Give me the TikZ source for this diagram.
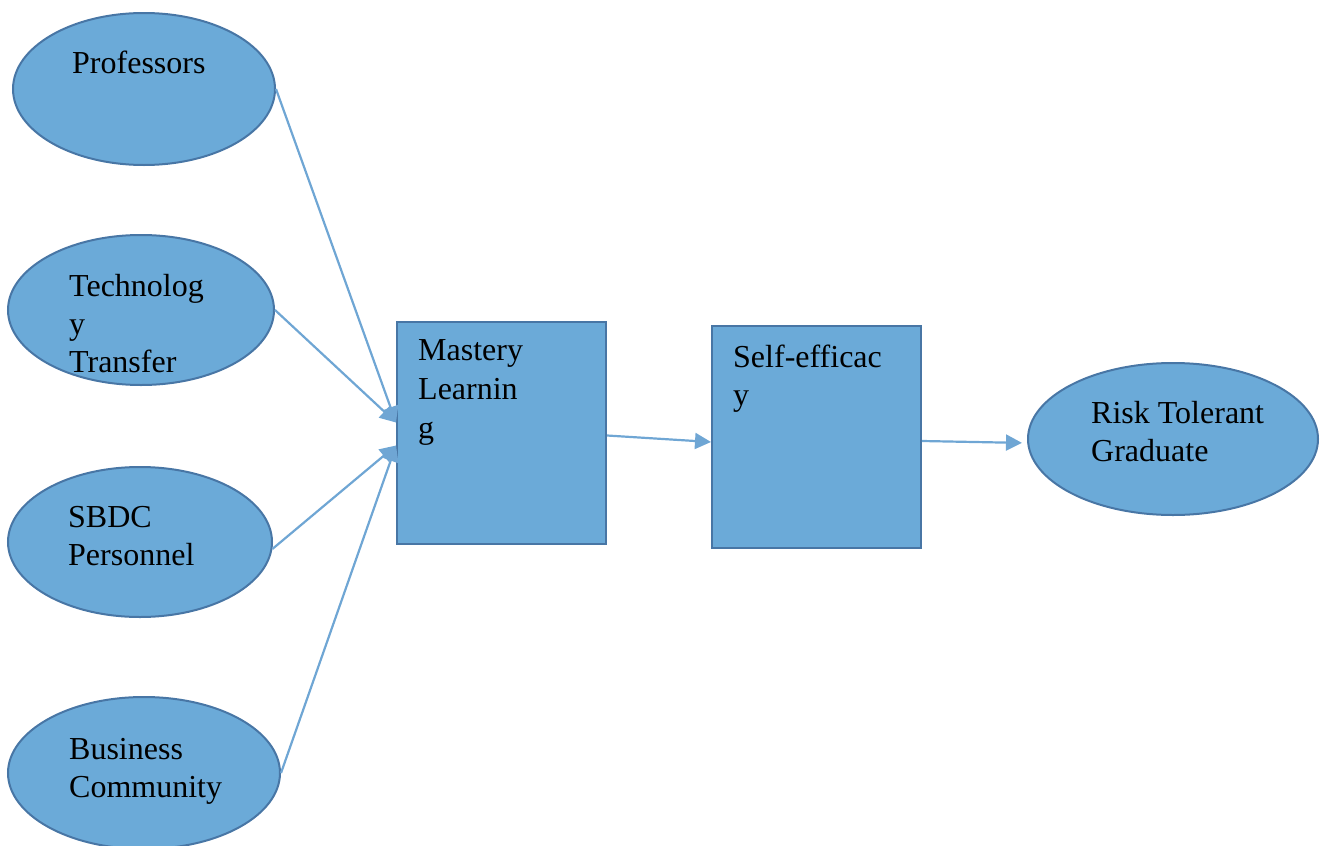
\documentclass[tikz,border=0pt]{standalone}
\usepackage{fontspec}
\setmainfont{Liberation Serif}
\usetikzlibrary{shapes.geometric,arrows.meta}
\definecolor{boxfill}{RGB}{107,170,216}
\definecolor{boxline}{RGB}{72,118,165}
\definecolor{arrowc}{RGB}{111,166,212}
\tikzset{
  x=1pt,y=-1pt,
  oval/.style={ellipse,draw=boxline,fill=boxfill,line width=2pt,inner sep=0pt},
  sq/.style={rectangle,draw=boxline,fill=boxfill,line width=2pt,inner sep=0pt,minimum width=209pt,minimum height=222pt},
  lbl/.style={anchor=base west,inner sep=0pt,align=left,font=\fontsize{32}{38}\selectfont},
  conn/.style={draw=arrowc,line width=2.2pt,-{Triangle[length=16pt,width=16pt]}}
}
\begin{document}
\begin{tikzpicture}
\useasboundingbox (0,0) rectangle (1326,846);
\node[oval,minimum width=262pt,minimum height=152pt] (prof) at (144,89) {};
\node[oval,minimum width=266pt,minimum height=150pt] (tech) at (141,310) {};
\node[oval,minimum width=264pt,minimum height=150pt] (sbdc) at (140,542) {};
\node[oval,minimum width=272pt,minimum height=152pt] (bus) at (144,773) {};
\node[sq] (mast) at (501.5,432.5) {};
\node[sq] (self) at (816.5,437) {};
\node[oval,minimum width=290pt,minimum height=152pt] (risk) at (1173,439) {};

% base anchor = baseline of the last line
\node[lbl] (profT) at (72,73) {Professors};
\node[lbl] (techT) at (69,372) {Technolog\\y\\Transfer};
\node[lbl] (sbdcT) at (68,565) {SBDC\\Personnel};
\node[lbl] (busT) at (69,797) {Business\\Community};
\node[lbl,font=\fontsize{32}{39}\selectfont] (mastT) at (418,438) {Mastery\\Learnin\\g};
\node[lbl] (selfT) at (733,405) {Self-efficac\\y};
\node[lbl] (riskT) at (1091,461) {Risk Tolerant\\Graduate};

\draw[conn] (prof.east) -- ([yshift=10pt]mast.west);
\draw[conn] (tech.east) -- ([yshift=10pt]mast.west);
\draw[conn] (sbdc.-3) -- ([yshift=-13pt]mast.west);
\draw[conn] (bus.east) -- ([yshift=-13pt]mast.west);
\draw[conn] ([yshift=-3pt]mast.east) -- ([yshift=-5pt]self.west);
\draw[conn,shorten >=5pt] ([yshift=-4pt]self.east) -- ([yshift=-4pt]risk.west);
\end{tikzpicture}
\end{document}
